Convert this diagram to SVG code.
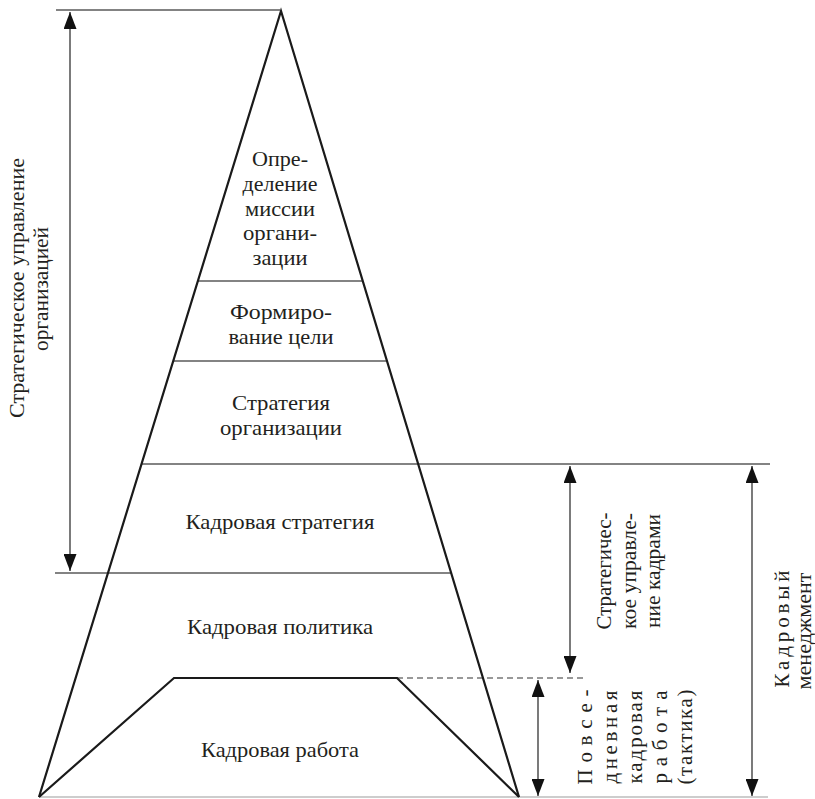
<svg xmlns="http://www.w3.org/2000/svg" width="815" height="799" viewBox="0 0 815 799">
  <style>
    .lbl { font-family: "Liberation Serif", "Times New Roman", serif; font-size: 21px; fill: #231f20; text-anchor: middle; }
    .edge { fill: none; stroke: #1a1a1a; stroke-width: 2.2; stroke-linejoin: miter; }
    .tier { stroke: #5a5a5a; stroke-width: 1.3; fill: none; }
    .base { stroke: #bdbdbd; stroke-width: 1.3; fill: none; }
    .dash { stroke: #777; stroke-width: 1.6; stroke-dasharray: 6 4; fill: none; }
    .span { stroke: #222; stroke-width: 1.2; fill: none; marker-start: url(#ah); marker-end: url(#ah); }
  </style>
  <defs>
    <marker id="ah" viewBox="0 0 17 13" refX="17" refY="6.5" markerWidth="17" markerHeight="13" markerUnits="userSpaceOnUse" orient="auto-start-reverse">
      <path d="M0,0 L17,6.5 L0,13 Z" fill="#111"/>
    </marker>
  </defs>

  <rect width="815" height="799" fill="#ffffff"/>

  <!-- guide lines marking tier boundaries -->
  <g id="guides">
    <line class="tier" x1="56" y1="10" x2="280" y2="10"/>
    <line class="tier" x1="198" y1="281" x2="362" y2="281"/>
    <line class="tier" x1="174" y1="361" x2="386" y2="361"/>
    <line class="tier" x1="142" y1="464" x2="770" y2="464"/>
    <line class="tier" x1="55" y1="573" x2="451" y2="573"/>
    <line class="base" x1="39" y1="797" x2="768" y2="797"/>
    <line class="dash" x1="397" y1="678" x2="583" y2="678"/>
  </g>

  <!-- pyramid outline and inner trapezoid -->
  <g id="pyramid">
    <path class="edge" d="M39,797 L281,11 L519,797"/>
    <path class="edge" d="M39,797 L174,678 L397,678 L519,797"/>
  </g>

  <g id="tier-mission">
    <text class="lbl" x="280" y="166" textLength="56" lengthAdjust="spacingAndGlyphs">Опре-</text>
    <text class="lbl" x="280" y="191" textLength="75" lengthAdjust="spacingAndGlyphs">деление</text>
    <text class="lbl" x="280" y="216" textLength="70" lengthAdjust="spacingAndGlyphs">миссии</text>
    <text class="lbl" x="280" y="240" textLength="74" lengthAdjust="spacingAndGlyphs">органи-</text>
    <text class="lbl" x="280" y="265" textLength="55" lengthAdjust="spacingAndGlyphs">зации</text>
  </g>
  <g id="tier-goal">
    <text class="lbl" x="281" y="319" textLength="102" lengthAdjust="spacingAndGlyphs">Формиро-</text>
    <text class="lbl" x="281" y="344" textLength="105" lengthAdjust="spacingAndGlyphs">вание цели</text>
  </g>
  <g id="tier-strategy">
    <text class="lbl" x="281" y="410" textLength="98" lengthAdjust="spacingAndGlyphs">Стратегия</text>
    <text class="lbl" x="281" y="435" textLength="122" lengthAdjust="spacingAndGlyphs">организации</text>
  </g>
  <g id="tier-hr-strategy">
    <text class="lbl" x="280" y="529" textLength="189" lengthAdjust="spacingAndGlyphs">Кадровая стратегия</text>
  </g>
  <g id="tier-hr-policy">
    <text class="lbl" x="280" y="634" textLength="186" lengthAdjust="spacingAndGlyphs">Кадровая политика</text>
  </g>
  <g id="tier-hr-work">
    <text class="lbl" x="280" y="757" textLength="158" lengthAdjust="spacingAndGlyphs">Кадровая работа</text>
  </g>

  <!-- span arrows -->
  <g id="connectors">
    <line class="span" x1="70" y1="12" x2="70" y2="571"/>
    <line class="span" x1="570" y1="466" x2="570" y2="673"/>
    <line class="span" x1="538" y1="680" x2="538" y2="796"/>
    <line class="span" x1="752" y1="466" x2="752" y2="796"/>
  </g>

  <!-- span labels, set vertically -->
  <g id="span-org">
    <text class="lbl" textLength="260" lengthAdjust="spacingAndGlyphs" transform="translate(24,288) rotate(-90)">Стратегическое управление</text>
    <text class="lbl" textLength="124" lengthAdjust="spacingAndGlyphs" transform="translate(48,289) rotate(-90)">организацией</text>
  </g>
  <g id="span-strategic-hr">
    <text class="lbl" textLength="117" lengthAdjust="spacingAndGlyphs" transform="translate(611,571) rotate(-90)">Стратегичес-</text>
    <text class="lbl" textLength="116" lengthAdjust="spacingAndGlyphs" transform="translate(636,571) rotate(-90)">кое управле-</text>
    <text class="lbl" textLength="114" lengthAdjust="spacingAndGlyphs" transform="translate(660,571) rotate(-90)">ние кадрами</text>
  </g>
  <g id="span-daily">
    <text class="lbl" textLength="95" lengthAdjust="spacing" transform="translate(592,737) rotate(-90)">Повсе-</text>
    <text class="lbl" textLength="93" lengthAdjust="spacing" transform="translate(617,737) rotate(-90)">дневная</text>
    <text class="lbl" textLength="93" lengthAdjust="spacing" transform="translate(642,737) rotate(-90)">кадровая</text>
    <text class="lbl" textLength="93" lengthAdjust="spacing" transform="translate(667,737) rotate(-90)">работа</text>
    <text class="lbl" textLength="95" lengthAdjust="spacing" transform="translate(692,737) rotate(-90)">(тактика)</text>
  </g>
  <g id="span-hr-management">
    <text class="lbl" textLength="117" lengthAdjust="spacing" transform="translate(789,629) rotate(-90)">Кадровый</text>
    <text class="lbl" textLength="117" lengthAdjust="spacingAndGlyphs" transform="translate(811,631) rotate(-90)">менеджмент</text>
  </g>
</svg>
